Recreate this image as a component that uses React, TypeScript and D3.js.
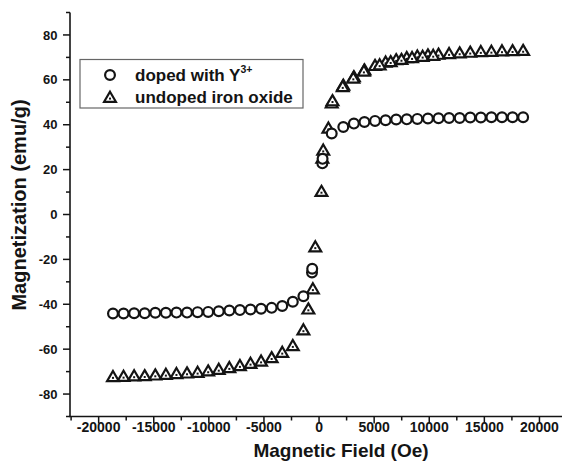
import React from "react";
import * as d3 from "d3";

// Y3+-doped sample: applied field (Oe) and magnetization (emu/g)
const dopedField = [
  -18700, -17740, -16780, -15820, -14860, -13900, -12940, -11980, -11020, -10060,
  -9100, -8140, -7180, -6220, -5260, -4300, -3340, -2380, -1420,
  -640, -620, 300, 320, 1150,
  2200, 3160, 4120, 5080, 6040, 7000, 7960, 8920, 9880, 10840,
  11800, 12760, 13720, 14680, 15640, 16600, 17560, 18520,
];
const dopedMag = [
  -44.1, -44.1, -44.0, -44.0, -43.8, -43.8, -43.7, -43.7, -43.5, -43.4,
  -43.1, -42.8, -42.6, -42.3, -42.0, -41.6, -40.8, -38.9, -36.4,
  -25.8, -24.2, 22.8, 24.8, 36.1,
  39.0, 40.5, 41.2, 41.7, 42.0, 42.3, 42.4, 42.6, 42.8, 42.9,
  43.0, 43.0, 43.2, 43.2, 43.3, 43.3, 43.3, 43.3,
];

// Undoped iron oxide: applied field (Oe) and magnetization (emu/g)
const undopedField = [
  -18700, -17740, -16780, -15820, -14860, -13900, -12940, -11980, -11020, -10060,
  -9100, -8140, -7180, -6220, -5260, -4300, -3340, -2380, -1420,
  -970, -560, -340, 220, 300, 380, 850, 1150, 1220,
  2200, 3160, 4120, 5080, 6040, 7000, 7960, 8920, 9880, 10840,
  11800, 12760, 13720, 14680, 15640, 16600, 17560, 18520,
  2150, 3110, 4070, 5500, 6500, 7480, 8440, 9400, 10360,
];
const undopedMag = [
  -72.3, -72.2, -72.0, -71.9, -71.6, -71.3, -71.0, -70.7, -70.4, -69.8,
  -69.1, -68.3, -67.4, -66.4, -65.4, -63.9, -61.5, -58.5, -51.5,
  -42.2, -33.2, -14.5, 10.2, 25.0, 28.6, 38.4, 49.6, 50.6,
  57.5, 61.3, 64.3, 66.3, 67.8, 68.9, 69.8, 70.5, 71.0, 71.3,
  71.6, 71.9, 72.2, 72.5, 72.6, 72.8, 72.9, 73.0,
  56.9, 60.7, 63.8, 66.6, 68.0, 69.0, 69.8, 70.4, 70.8,
];

const xMajorTicks = [-20000, -15000, -10000, -5000, 0, 5000, 10000, 15000, 20000];
const yMajorTicks = [-80, -60, -40, -20, 0, 20, 40, 60, 80];

const W = 562;
const H = 469;
const FONT = "'Liberation Sans', Arial, Helvetica, sans-serif";
const INK = "#141414";

const x = d3.scaleLinear().domain([-22600, 22600]).range([70, 568.1]);
const y = d3.scaleLinear().domain([-90, 90]).range([416.5, 12.5]);

const xMinor = d3.range(-22500, 22501, 2500).filter((v) => v % 5000 !== 0);
const yMinor = d3.range(-90, 91, 10).filter((v) => v % 20 !== 0);

const triPath = "M0,-5.8 L5.9,4.3 L-5.9,4.3 Z";

function Circle({ cx, cy }: { cx: number; cy: number }) {
  return <circle cx={cx} cy={cy} r={4.9} fill="#fff" stroke={INK} strokeWidth={2.2} />;
}

function Tri({ cx, cy }: { cx: number; cy: number }) {
  return (
    <g transform={`translate(${cx},${cy})`}>
      <path d={triPath} fill="#fff" stroke={INK} strokeWidth={2.2} strokeLinejoin="miter" />
      <rect x={-1} y={0.1} width={2} height={2} fill={INK} />
    </g>
  );
}

export default function App() {
  const doped = dopedField.map((f, i) => ({ f, m: dopedMag[i] }));
  const undoped = undopedField.map((f, i) => ({ f, m: undopedMag[i] }));
  const xAxisY = y.range()[0];
  const yAxisX = x.range()[0];

  return (
    <div style={{ position: "fixed", left: 0, top: 0 }}>
      <svg width={W} height={H} style={{ display: "block", background: "#fff" }} fontFamily={FONT}>
        <rect width={W} height={H} fill="#fff" />

        {/* axes */}
        <line x1={yAxisX} x2={yAxisX} y1={y.range()[1]} y2={xAxisY} stroke={INK} strokeWidth={1.6} />
        <line x1={yAxisX - 0.8} x2={x.range()[1]} y1={xAxisY} y2={xAxisY} stroke={INK} strokeWidth={1.6} />

        {xMajorTicks.map((t) => (
          <g key={`xt${t}`}>
            <line x1={x(t)} x2={x(t)} y1={xAxisY} y2={xAxisY + 7} stroke={INK} strokeWidth={1.5} />
            <text x={x(t)} y={431.5} textAnchor="middle" fontSize={14} fontWeight="bold" fill={INK}>
              {t}
            </text>
          </g>
        ))}
        {xMinor.map((t) => (
          <line key={`xm${t}`} x1={x(t)} x2={x(t)} y1={xAxisY} y2={xAxisY + 4} stroke={INK} strokeWidth={1.5} />
        ))}

        {yMajorTicks.map((t) => (
          <g key={`yt${t}`}>
            <line x1={yAxisX - 7} x2={yAxisX} y1={y(t)} y2={y(t)} stroke={INK} strokeWidth={1.5} />
            <text x={57.5} y={y(t) + 4.6} textAnchor="end" fontSize={13} fontWeight="bold" fill={INK}>
              {t}
            </text>
          </g>
        ))}
        {yMinor.map((t) => (
          <line key={`ym${t}`} x1={yAxisX - 4} x2={yAxisX} y1={y(t)} y2={y(t)} stroke={INK} strokeWidth={1.5} />
        ))}

        {/* axis titles */}
        <text x={341} y={456.5} textAnchor="middle" fontSize={19} fontWeight="bold" fill={INK}>
          Magnetic Field (Oe)
        </text>
        <text
          transform={`translate(26,205) rotate(-90)`}
          textAnchor="middle"
          fontSize={20}
          fontWeight="bold"
          fill={INK}
        >
          Magnetization (emu/g)
        </text>

        {/* data */}
        {undoped.map((d, i) => (
          <Tri key={`u${i}`} cx={x(d.f)} cy={y(d.m)} />
        ))}
        {doped.map((d, i) => (
          <Circle key={`d${i}`} cx={x(d.f)} cy={y(d.m)} />
        ))}

        {/* legend */}
        <rect x={80} y={59.5} width={223} height={48.5} fill="#fff" stroke="#666" strokeWidth={1.2} />
        <Circle cx={110} cy={75} />
        <text x={135} y={80.5} fontSize={17} fontWeight="bold" fill={INK}>
          doped with Y
          <tspan fontSize={10.5} dy={-7.5}>3+</tspan>
        </text>
        <Tri cx={110} cy={97.5} />
        <text x={135} y={103} fontSize={17} fontWeight="bold" fill={INK}>
          undoped iron oxide
        </text>
      </svg>
    </div>
  );
}
